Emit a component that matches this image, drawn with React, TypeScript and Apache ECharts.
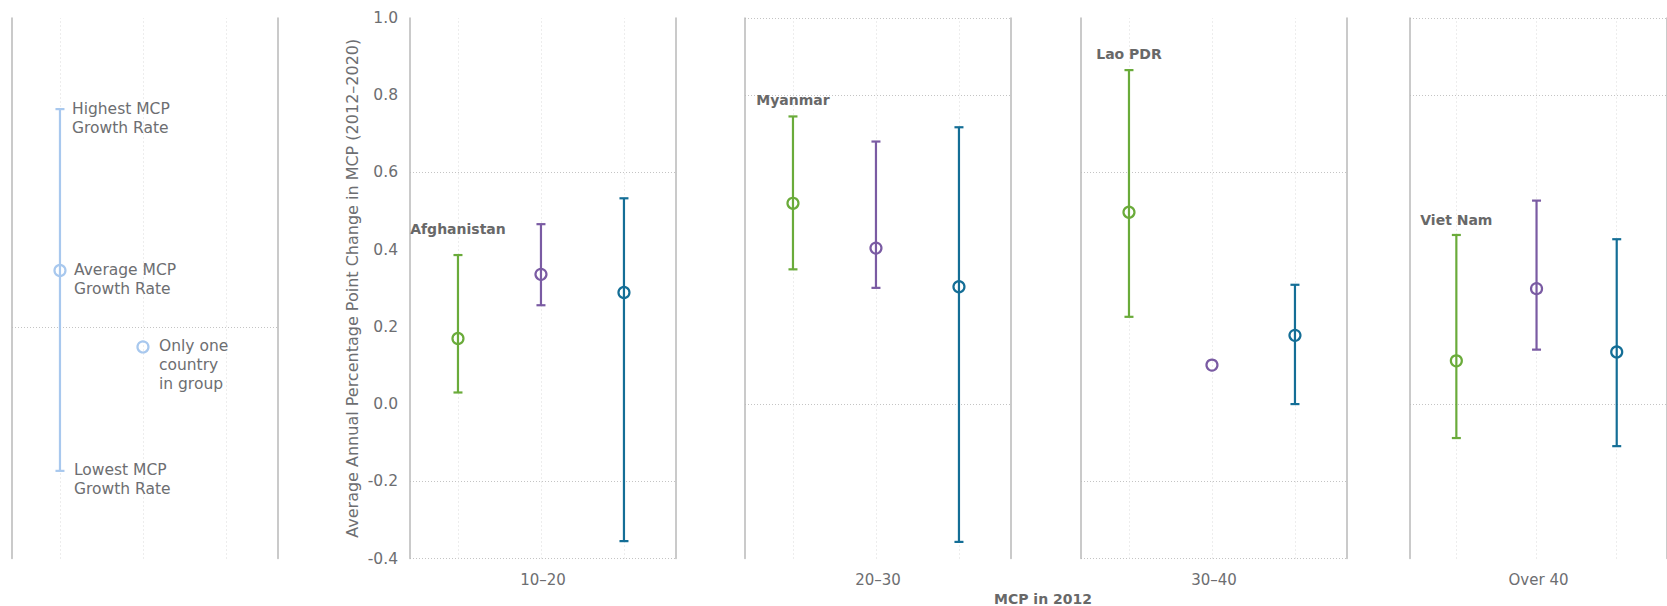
import React, { useEffect, useRef } from 'react';
import * as echarts from 'echarts';

// ---------- data ----------
const categories = ['10–20', '20–30', '30–40', 'Over 40'];
const countryLabels = ['Afghanistan', 'Myanmar', 'Lao PDR', 'Viet Nam'];
const countryLabelY = [0.454, 0.787, 0.908, 0.478];
const yTicks = [-0.4, -0.2, 0.0, 0.2, 0.4, 0.6, 0.8, 1.0];

const groupNames = ['Group 1', 'Group 2', 'Group 3'];
const groupColors = ['#6aab3a', '#7a5ba3', '#146e96'];

const greenAvg = [0.17, 0.52, 0.497, 0.112];
const greenHigh = [0.386, 0.745, 0.865, 0.438];
const greenLow = [0.03, 0.349, 0.226, -0.088];

const purpleAvg = [0.336, 0.404, 0.101, 0.299];
const purpleHigh = [0.466, 0.68, null, 0.527];
const purpleLow = [0.256, 0.301, null, 0.141];

const blueAvg = [0.289, 0.304, 0.178, 0.135];
const blueHigh = [0.533, 0.717, 0.309, 0.427];
const blueLow = [-0.355, -0.357, 0.0, -0.109];

const legendHigh = 0.764;
const legendAvg = 0.346;
const legendLow = -0.173;
const legendSingle = 0.148;
const legendTextHigh = 'Highest MCP\nGrowth Rate';
const legendTextAvg = 'Average MCP\nGrowth Rate';
const legendTextLow = 'Lowest MCP\nGrowth Rate';
const legendTextSingle = 'Only one\ncountry\nin group';
const legendColor = '#a8c8ee';

const yAxisTitle = 'Average Annual Percentage Point Change in MCP (2012–2020)';
const xAxisTitle = 'MCP in 2012';

// ---------- styles ----------
const FONT = 'DejaVu Sans';
const TEXT = '#6d6e71';
const LABEL = '#686868';
const BORDER = '#b8b8b8';
const GRID = '#c4c4c4';

const TOP = 18;
const HEIGHT = 540.5;
const WIDTH = 266;
const LEFTS = [12, 410, 745, 1081, 1410];
const XMIN = -0.578;
const XMAX = 2.627;

// which horizontal grid lines are visible in each grid (by tick index)
const visibleLines = [
  [3],
  [0, 1, 5],
  [2, 6, 7],
  [0, 1, 5],
  [2, 6, 7],
];

function errorBarShapes(api: any, x: number, avg: number, low: number, high: number, color: string) {
  const children: any[] = [];
  if (low != null && !isNaN(low) && high != null && !isNaN(high)) {
    const pL = api.coord([x, low]);
    const pH = api.coord([x, high]);
    const cap = 4.5;
    children.push({
      type: 'line',
      shape: { x1: pL[0], y1: pL[1], x2: pH[0], y2: pH[1] },
      style: { stroke: color, lineWidth: 2.2 },
    });
    children.push({
      type: 'line',
      shape: { x1: pH[0] - cap, y1: pH[1], x2: pH[0] + cap, y2: pH[1] },
      style: { stroke: color, lineWidth: 2.2 },
    });
    children.push({
      type: 'line',
      shape: { x1: pL[0] - cap, y1: pL[1], x2: pL[0] + cap, y2: pL[1] },
      style: { stroke: color, lineWidth: 2.2 },
    });
  }
  const pA = api.coord([x, avg]);
  children.push({
    type: 'circle',
    shape: { cx: pA[0], cy: pA[1], r: 5.5 },
    style: { stroke: color, lineWidth: 2.2, fill: 'none' },
  });
  return children;
}

export default function App() {
  const ref = useRef<HTMLDivElement>(null);

  useEffect(() => {
    if (!ref.current) return;
    const chart = echarts.init(ref.current, undefined, { renderer: 'svg' });

    const grids: any[] = [];
    const xAxes: any[] = [];
    const yAxes: any[] = [];
    const series: any[] = [];

    LEFTS.forEach((left, gi) => {
      grids.push({ left, top: TOP, width: WIDTH, height: HEIGHT, containLabel: false });
      const isPanel = gi > 0;
      xAxes.push({
        type: 'value',
        gridIndex: gi,
        min: XMIN,
        max: XMAX,
        axisLine: { show: false, onZero: false },
        axisTick: { show: false },
        axisLabel: { show: false },
        splitLine: { show: false },
        name: isPanel ? categories[gi - 1] : '',
        nameLocation: 'middle',
        nameGap: 14,
        nameTextStyle: { color: TEXT, fontSize: 15, fontFamily: FONT },
      });
      const lineColors = yTicks.map((_, i) => (visibleLines[gi].includes(i) ? GRID : 'rgba(0,0,0,0)'));
      yAxes.push({
        type: 'value',
        gridIndex: gi,
        position: 'left',
        min: -0.4,
        max: 1.0,
        interval: 0.2,
        axisLine: { show: true, onZero: false, lineStyle: { color: BORDER, width: 1.5 } },
        axisTick: { show: false },
        axisLabel: {
          show: gi === 1,
          color: TEXT,
          fontSize: 15.5,
          fontFamily: FONT,
          margin: 12,
          formatter: (v: number) => v.toFixed(1),
        },
        splitLine: { show: true, lineStyle: { color: lineColors, type: [1, 2], width: 1 } },
        name: gi === 1 ? yAxisTitle : '',
        nameLocation: 'middle',
        nameGap: 50,
        nameRotate: 90,
        nameTextStyle: { color: TEXT, fontSize: 16, fontFamily: FONT },
      });
      yAxes.push({
        type: 'value',
        gridIndex: gi,
        position: 'right',
        min: -0.4,
        max: 1.0,
        interval: 0.2,
        axisLine: { show: true, onZero: false, lineStyle: { color: BORDER, width: 1.5 } },
        axisTick: { show: false },
        axisLabel: { show: false },
        splitLine: { show: false },
      });

      // vertical dotted guide lines at each column
      series.push({
        type: 'line',
        xAxisIndex: gi,
        yAxisIndex: gi * 2,
        data: [],
        silent: true,
        z: 0,
        markLine: {
          silent: true,
          z: 0,
          symbol: ['none', 'none'],
          label: { show: false },
          lineStyle: { color: '#dadada', type: [1, 3], width: 1 },
          data: [{ xAxis: 0 }, { xAxis: 1 }, { xAxis: 2 }],
        },
      });
    });

    // legend panel
    series.push({
      type: 'custom',
      name: 'legend',
      xAxisIndex: 0,
      yAxisIndex: 0,
      z: 5,
      data: [[0, legendAvg, legendLow, legendHigh]],
      encode: { x: 0, y: [1, 2, 3] },
      renderItem: (params: any, api: any) => {
        const x = api.value(0);
        const children = errorBarShapes(api, x, api.value(1), api.value(2), api.value(3), legendColor);
        const pH = api.coord([x, api.value(3)]);
        const pA = api.coord([x, api.value(1)]);
        const pL = api.coord([x, api.value(2)]);
        const ts = (text: string, px: number, py: number) => ({
          type: 'text',
          x: px,
          y: py,
          style: {
            text,
            fill: TEXT,
            fontSize: 15.5,
            fontFamily: FONT,
            lineHeight: 19,
            align: 'left',
            verticalAlign: 'top',
          },
        });
        children.push(ts(legendTextHigh, pH[0] + 12, pH[1] - 10));
        children.push(ts(legendTextAvg, pA[0] + 14, pA[1] - 10));
        children.push(ts(legendTextLow, pL[0] + 14, pL[1] - 10));
        return { type: 'group', children };
      },
    });
    series.push({
      type: 'custom',
      name: 'legend-single',
      xAxisIndex: 0,
      yAxisIndex: 0,
      z: 5,
      data: [[1, legendSingle]],
      renderItem: (params: any, api: any) => {
        const x = api.value(0);
        const children = errorBarShapes(api, x, api.value(1), NaN, NaN, legendColor);
        const p = api.coord([x, api.value(1)]);
        children.push({
          type: 'text',
          x: p[0] + 16,
          y: p[1] - 10,
          style: {
            text: legendTextSingle,
            fill: TEXT,
            fontSize: 15.5,
            fontFamily: FONT,
            lineHeight: 19,
            align: 'left',
            verticalAlign: 'top',
          },
        });
        return { type: 'group', children };
      },
    });

    // panels
    const avgs = [greenAvg, purpleAvg, blueAvg];
    const lows = [greenLow, purpleLow, blueLow];
    const highs = [greenHigh, purpleHigh, blueHigh];
    categories.forEach((cat, ci) => {
      const gi = ci + 1;
      groupNames.forEach((gname, g) => {
        const low = lows[g][ci];
        const high = highs[g][ci];
        series.push({
          type: 'custom',
          name: gname,
          xAxisIndex: gi,
          yAxisIndex: gi * 2,
          z: 5,
          data: [[g, avgs[g][ci], low == null ? NaN : low, high == null ? NaN : high]],
          encode: { x: 0, y: [1, 2, 3] },
          renderItem: (params: any, api: any) => {
            const x = api.value(0);
            return {
              type: 'group',
              children: errorBarShapes(api, x, api.value(1), api.value(2), api.value(3), groupColors[g]),
            };
          },
        });
      });
      series.push({
        type: 'custom',
        name: 'country-' + cat,
        xAxisIndex: gi,
        yAxisIndex: gi * 2,
        z: 5,
        data: [[0, countryLabelY[ci]]],
        renderItem: (params: any, api: any) => {
          const p = api.coord([api.value(0), api.value(1)]);
          return {
            type: 'text',
            x: p[0],
            y: p[1],
            style: {
              text: countryLabels[ci],
              fill: LABEL,
              fontSize: 14,
              fontWeight: 'bold',
              fontFamily: FONT,
              align: 'center',
              verticalAlign: 'middle',
            },
          };
        },
      });
    });

    chart.setOption({
      animation: false,
      backgroundColor: '#ffffff',
      textStyle: { fontFamily: FONT },
      grid: grids,
      xAxis: xAxes,
      yAxis: yAxes,
      series,
      graphic: [
        {
          type: 'text',
          x: 1043,
          y: 599,
          style: {
            text: xAxisTitle,
            fill: LABEL,
            fontSize: 14,
            fontWeight: 'bold',
            fontFamily: FONT,
            align: 'center',
            verticalAlign: 'middle',
          },
        },
      ],
    });

    return () => chart.dispose();
  }, []);

  return (
    <div
      ref={ref}
      style={{ position: 'fixed', left: 0, top: 0, width: 1667, height: 606, background: '#fff' }}
    />
  );
}
